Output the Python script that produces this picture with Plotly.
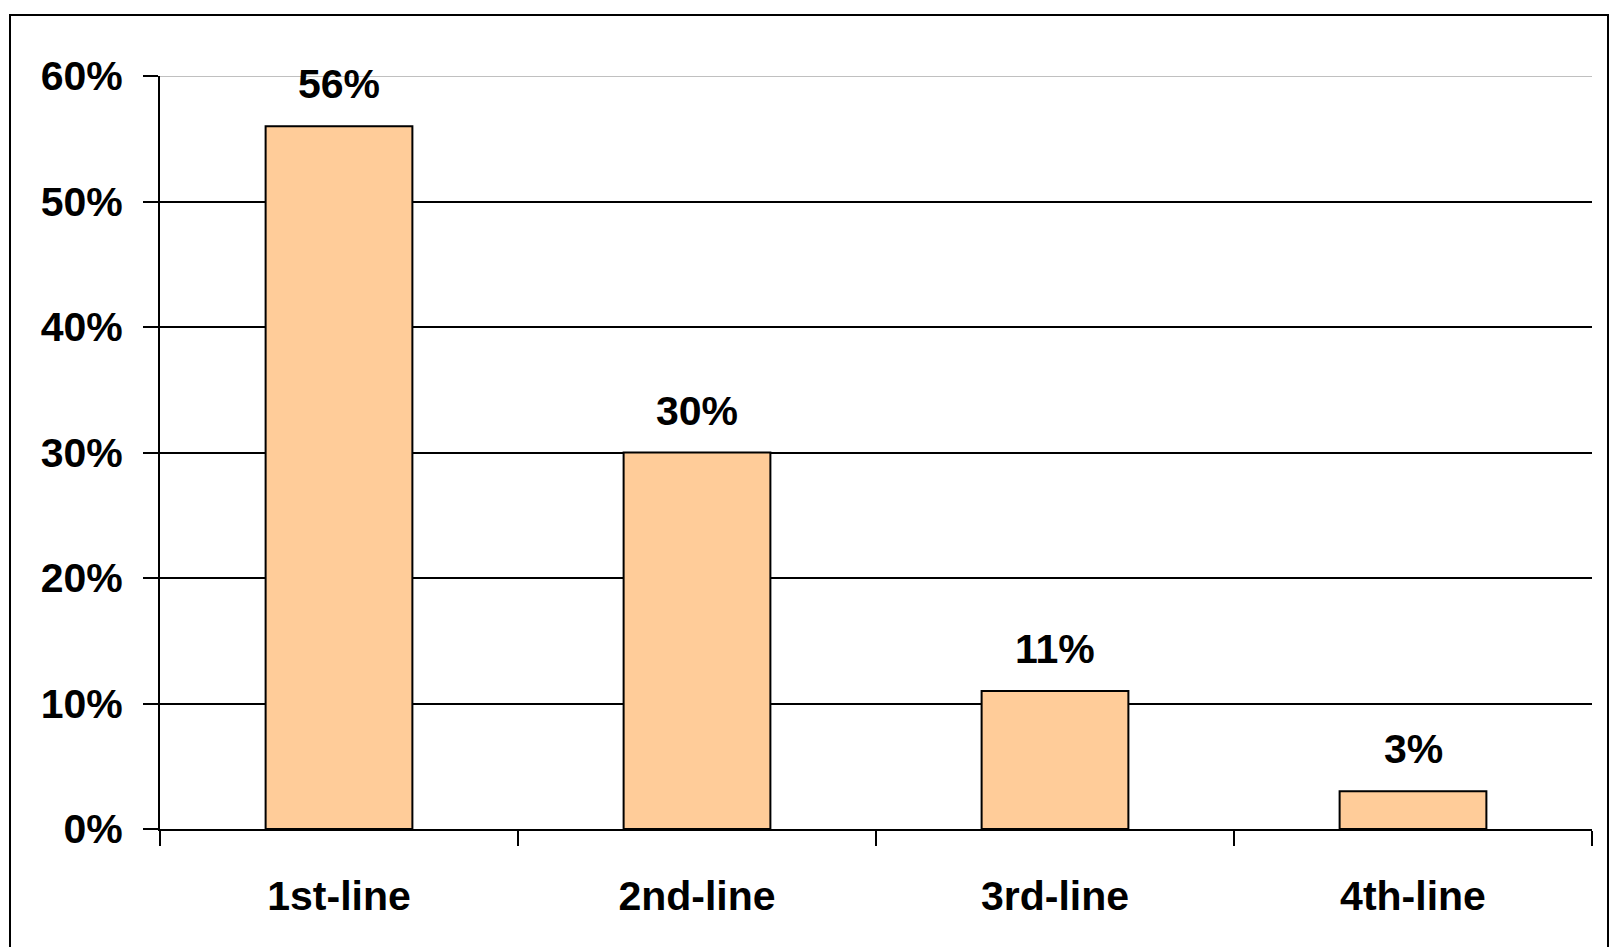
import plotly.graph_objects as go

categories = ["1st-line", "2nd-line", "3rd-line", "4th-line"]
values = [56, 30, 11, 3]
y_ticks = [0, 10, 20, 30, 40, 50, 60]
y_tick_labels = ["0%", "10%", "20%", "30%", "40%", "50%", "60%"]
value_labels = ["56%", "30%", "11%", "3%"]

FONT = "Liberation Sans, Arial, sans-serif"
FS = 41
W, H = 1618, 947
L, R, T, B = 160, 26, 76, 118

fig = go.Figure()
fig.add_trace(go.Bar(
    x=categories, y=values,
    marker=dict(color="#FFCC99", line=dict(color="#000000", width=2)),
    width=0.41,
    hoverinfo="skip",
))

for c, v, t in zip(categories, values, value_labels):
    fig.add_annotation(x=c, y=v, text=t, showarrow=False, yanchor="bottom",
                       yshift=17, font=dict(family=FONT, size=FS, color="black", weight="bold"))

# light grey top gridline
fig.add_shape(type="line", xref="paper", x0=0, x1=1, yref="y", y0=y_ticks[-1], y1=y_ticks[-1],
              line=dict(color="#C0C0C0", width=2), layer="above")

# outer chart border
fig.add_shape(type="rect", xref="paper", yref="paper",
              x0=-(L - 10) / (W - L - R), x1=1 + (R - 10) / (W - L - R),
              y0=-0.5, y1=1 + (T - 15) / (H - T - B),
              line=dict(color="black", width=2), fillcolor="rgba(0,0,0,0)", layer="below")

fig.update_layout(
    width=W, height=H,
    margin=dict(l=L, r=R, t=T, b=B, pad=0),
    paper_bgcolor="white", plot_bgcolor="white",
    showlegend=False,
    font=dict(family=FONT, size=FS, color="black", weight="bold"),
    xaxis=dict(
        showline=True, linecolor="black", linewidth=2,
        ticks="outside", ticklen=15, tickwidth=2, tickcolor="black",
        tickson="boundaries", showgrid=False,
        tickfont=dict(family=FONT, size=FS, color="black", weight="bold"),
        ticklabelstandoff=30,
    ),
    yaxis=dict(
        range=[0, 60], tickvals=y_ticks, ticktext=y_tick_labels,
        showline=True, linecolor="black", linewidth=2,
        ticks="outside", ticklen=15, tickwidth=2, tickcolor="black",
        showgrid=True, gridcolor="black", gridwidth=2,
        zeroline=False,
        tickfont=dict(family=FONT, size=FS, color="black", weight="bold"),
        ticklabelstandoff=12,
    ),
)

fig.write_html("out.html")
